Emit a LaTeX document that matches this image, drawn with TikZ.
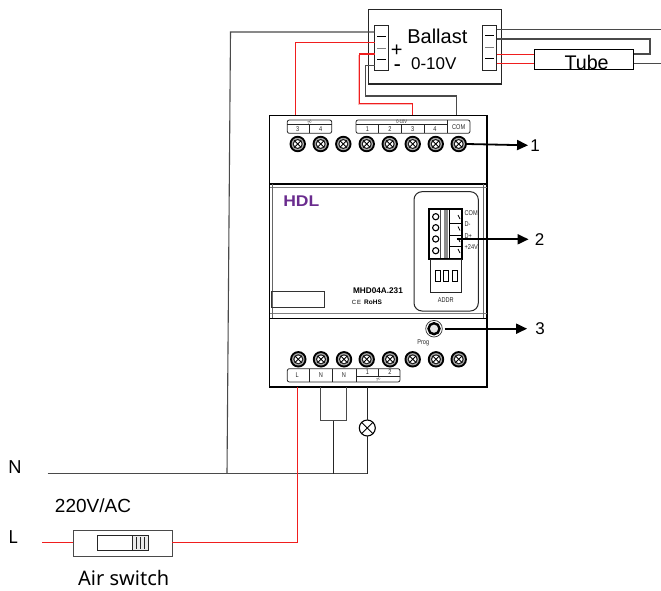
\documentclass[tikz,border=0pt]{standalone}
\usepackage{fontspec}
\setmainfont{Liberation Sans}
\newfontfamily\notofont{Noto Sans}
\newfontfamily\condfont[FakeStretch=0.8]{Liberation Sans}
\usetikzlibrary{arrows.meta}
\definecolor{wireGray}{HTML}{4A4A4A}
\definecolor{wireRed}{HTML}{F01E1E}
\definecolor{hdlPurple}{HTML}{6A2C8E}
\newcommand{\fsize}[1]{\fontsize{#1}{#1}\selectfont}
\tikzset{
	graywire/.style={wireGray, line width=1.1pt},
	redwire/.style={wireRed, line width=1.3pt},
	blackwire/.style={black!85, line width=1pt},
	pointer/.style={black, line width=1.8pt, -{Triangle[length=11pt,width=10pt]}},
	strip/.style={draw=black!85, fill=white, line width=1pt, minimum width=14pt, minimum height=45pt, inner sep=0pt, outer sep=0pt},
	bigtext/.style={inner sep=0pt, font=\fsize{19}},
	calllabel/.style={inner sep=2pt, font=\fsize{17}},
	tinytext/.style={inner sep=0pt, font=\condfont\fsize{7}, black!85},
	frameline/.style={black!85, line width=0.8pt},
	screw/.style={circle, fill=black, minimum size=16.4pt, inner sep=0pt, outer sep=0pt, path picture={
		\fill [black!35] (path picture bounding box.center) circle (6.2pt);
		\fill [black!90] (path picture bounding box.center) circle (5pt);
		\fill [white] (path picture bounding box.center) circle (3.8pt);
		\draw [black, line width=0.9pt] ([shift={(-3.4pt,-3.4pt)}]path picture bounding box.center) -- ([shift={(3.4pt,3.4pt)}]path picture bounding box.center);
		\draw [black, line width=0.9pt] ([shift={(-3.4pt,3.4pt)}]path picture bounding box.center) -- ([shift={(3.4pt,-3.4pt)}]path picture bounding box.center);
	}}
}
\begin{document}
\begin{tikzpicture}[x=1pt,y=-1pt]
	\useasboundingbox (0,0) rectangle (661,591);

	% ballast
	\node [draw=black!85, line width=1.1pt, minimum width=133.4pt, minimum height=74.5pt, inner sep=0pt, outer sep=0pt] (ballast) at (435,46.75) {};
	\node [strip] (ballastin) at (381.5,48.5) {};
	\node [strip] (ballastout) at (489.7,47.8) {};
	\foreach \y/\c in {36/black,48.7/gray,59.3/black}
		\draw [\c, line width=0.8pt] (377,\y) -- (386,\y);
	\foreach \y/\c in {35/black,47.7/gray,58.3/black}
		\draw [\c, line width=0.8pt] (485.2,\y) -- (494.2,\y);
	\node [bigtext, font=\fsize{20}] (ballasttext) at (437.3,36) {Ballast};
	\node [bigtext, font=\fsize{17}] (voltagetext) at (433.8,63.3) {0-10V};
	\node [inner sep=0pt, text height=11pt, text depth=0pt, font=\fsize{20}] (plussign) at (396.7,51.5) {+};
	\node [inner sep=0pt, text height=6pt, text depth=0pt, xscale=1.4, font=\bfseries\fsize{15}] (minussign) at (397.3,67) {-};

	% tube
	\node [draw=black, line width=1.1pt, minimum width=99.4pt, minimum height=20pt, inner sep=0pt, outer sep=0pt] (tube) at (584,59.3) {};
	\node [inner sep=0pt, font=\fsize{19.7}] (tubetext) at (586.6,62.5) {Tube};

	% pins
	\coordinate (inone) at (ballastin.west |- 0,32);
	\coordinate (intwo) at (ballastin.west |- 0,42.7);
	\coordinate (inthree) at (ballastin.west |- 0,54);
	\coordinate (infour) at (ballastin.west |- 0,65.3);
	\coordinate (outone) at (ballastout.east |- 0,29.3);
	\coordinate (outtwo) at (ballastout.east |- 0,39);
	\coordinate (outthree) at (ballastout.east |- 0,54.3);
	\coordinate (outfour) at (ballastout.east |- 0,63.7);
	\coordinate (tubeleftone) at (tube.west |- 0,54.3);
	\coordinate (tubelefttwo) at (tube.west |- 0,63.7);
	\coordinate (tuberightone) at (tube.east |- 0,54);
	\coordinate (tuberighttwo) at (tube.east |- 0,63.7);
	\coordinate (rightone) at (661,29.3);
	\coordinate (righttwo) at (661,63.7);

	% device
	\node [draw=black, line width=1.6pt, minimum width=217.7pt, minimum height=271pt, inner sep=0pt, outer sep=0pt] (device) at (378.2,251.2) {};
	\draw [black, line width=1.4pt] (270,184) -- (487,184);
	\draw [black!50, line width=0.6pt] (270,187.5) -- (487,187.5);
	\draw [black!50, line width=0.6pt] (270,313) -- (487,313);
	\draw [black, line width=1.4pt] (270,318.3) -- (487,318.3);
	\draw [black!60, line width=0.8pt] (272.5,184) -- (272.5,318);
	\draw [black!60, line width=0.8pt] (483.5,184) -- (483.5,318);

	% top terminals
	\draw [frameline, rounded corners=2pt] (287.3,120) rectangle (331.7,133.3);
	\draw [frameline] (287.3,124.3) -- (331.7,124.3);
	\draw [frameline] (309.7,124.3) -- (309.7,133.3);
	\draw [frameline, rounded corners=2pt] (356,120) rectangle (470,133.3);
	\draw [frameline] (356,124.3) -- (447.3,124.3);
	\draw [frameline] (447.3,120) -- (447.3,133.3);
	\foreach \x in {378.7,401.3,424}
		\draw [frameline] (\x,124.3) -- (\x,133.3);
	\node [tinytext, font=\fsize{4.5}] (topac) at (309.5,122.2) {$\not\sim$};
	\node [tinytext, font=\condfont\fsize{5}] (topvolt) at (401.7,122.2) {0-10V};
	\node [tinytext] (topcom) at (458.7,127) {COM};
	\foreach \x/\t in {297.7/3,320.7/4,367.5/1,390/2,412.7/3,435/4}
		\node [tinytext] (top\x) at (\x,129.5) {\t};
	\foreach \x [count=\i] in {297.7,320.7,343.3,366.7,389.7,412.7,435.7,458.7}
		\node [screw] (topscrew\i) at (\x,144) {};

	% wires at the ballast
	\coordinate (devredone) at (295.5,115);
	\coordinate (devredtwo) at (412.7,115);
	\coordinate (devcom) at (456.3,115);
	\coordinate (nwire) at (227,473.7);
	\draw [graywire] (inone) -- (230.5,32) -- (nwire);
	\draw [redwire] (intwo) -| (devredone);
	\draw [wireRed!30, line width=0.6pt] (359.3,55.4) -- (358,55.4) -- (358,104.7) -- (412,104.7);
	\draw [redwire] (inthree) -- (359.3,54) -- (359.3,103.3) -| (devredtwo);
	\draw [graywire] (infour) -- (365.7,65.3) -- (365.7,96) -| (devcom);
	\draw [graywire] (outone) -- (rightone);
	\draw [graywire] (outtwo) -- (650,39) -- (650,54) -- (tuberightone);
	\draw [graywire] (tuberighttwo) -- (righttwo);
	\draw [redwire] (outthree) -- (tubeleftone);
	\draw [redwire] (outfour) -- (tubelefttwo);

	% logo and type
	\node [inner sep=0pt, xscale=1.13, font=\bfseries\fsize{15.5}, text=hdlPurple] (logo) at (301.3,201.6) {HDL};
	\node [draw=black!80, line width=0.8pt, minimum width=52.6pt, minimum height=16.7pt, inner sep=0pt] (blanklabel) at (298,299.3) {};
	\node [inner sep=0pt, font=\bfseries\fsize{8.2}] (typetext) at (378,291) {MHD04A.231};
	\node [inner sep=0pt, font=\fsize{6}] (cemark) at (356.5,302.7) {C\,E};
	\node [inner sep=0pt, font=\rmfamily\bfseries\fsize{6.5}] (rohs) at (373,302.7) {RoHS};

	% bus terminal
	\draw [black!85, line width=1pt, rounded corners=8pt] (414,191.7) rectangle (478.3,311);
	\draw [black, line width=1.7pt] (429.3,209.3) rectangle (462,258.7);
	\draw [black!70, line width=0.8pt] (440,210) -- (440,258);
	\fill [black!45] (443.5,210) rectangle (448.3,258);
	\draw [black, line width=0.9pt] (449.5,210) -- (449.5,258);
	\foreach \y in {216.7,227.7,239,250.7}
		\draw [black, line width=1.1pt] (435.7,\y) circle (3.1pt);
	\foreach \y in {223.3,235,246}
		\draw [black, line width=0.9pt] (450,\y) -- (462,\y);
	\foreach \y in {217,228.5,240,251}
		\draw [black, line width=0.8pt] (458,\y-2) -- (460,\y+2);
	\coordinate (busport) at (456.7,239.3);
	\foreach \y/\t [count=\i] in {213.3/COM,224.3/D-,236/D+,247.3/+24V}
		\node [tinytext, anchor=west] (buslabel\i) at (464.5,\y) {\t};

	% address switch
	\draw [black!85, line width=1pt] (430.7,259.5) rectangle (461.5,292);
	\foreach \x in {435,443.5,452}
		\draw [black, line width=1pt] (\x,270) rectangle ++(5.3,11.7);
	\node [tinytext] (addrtext) at (445.7,300) {ADDR};

	% prog button
	\draw [black!80, line width=0.7pt] (434,328.7) circle (8.3pt);
	\node [circle, draw=black, line width=2.4pt, minimum size=11pt, inner sep=0pt, fill=black!10, outer sep=5pt] (progbutton) at (434,328.7) {};
	\node [tinytext] (progtext) at (423.3,343.3) {Prog};

	% bottom terminals
	\foreach \x [count=\i] in {298.3,321,344,366.7,390,412.7,436,458.7}
		\node [screw] (lowscrew\i) at (\x,359.3) {};
	\draw [frameline, rounded corners=2pt] (287.3,368.7) rectangle (400,382);
	\foreach \x in {309.3,332.3,356}
		\draw [frameline] (\x,368.7) -- (\x,382);
	\draw [frameline] (378.3,368.7) -- (378.3,376);
	\draw [frameline] (356,376.5) -- (400,376.5);
	\foreach \x/\t in {297.3/L,321/N,344/N}
		\node [tinytext] (low\x) at (\x,375.5) {\t};
	\foreach \x/\t in {367.5/1,390/2}
		\node [tinytext] (low\x) at (\x,372.5) {\t};
	\node [tinytext, font=\fsize{4.5}] (lowac) at (378.3,379.3) {$\not\sim$};

	% call-outs
	\node [calllabel] (labelone) at (535,145.3) {1};
	\node [calllabel, inner sep=6pt] (labeltwo) at (539.5,240) {2};
	\node [calllabel, inner sep=8pt] (labelthree) at (540,329) {3};
	\draw [pointer] (topscrew8.east) -- (labelone.west);
	\draw [pointer] (busport) -- (labeltwo.west |- busport);
	\draw [pointer] (progbutton.east) -- (labelthree.west |- progbutton);

	% mains lines
	\coordinate (ntail) at (47.7,473.7);
	\coordinate (ltail) at (42.3,542.5);
	\coordinate (lowl) at (297.5,387);
	\coordinate (lown) at (320.7,387);
	\coordinate (lownn) at (346.7,387);
	\coordinate (lowlamp) at (367.3,387);
	\coordinate (njoint) at (333.3,420.7);
	\coordinate (nend) at (367.3,473.7);
	\node [circle, draw=black, line width=1.1pt, minimum size=16pt, inner sep=0pt, outer sep=0pt, path picture={
		\draw [black, line width=0.9pt] (path picture bounding box.south west) -- (path picture bounding box.north east);
		\draw [black, line width=0.9pt] (path picture bounding box.north west) -- (path picture bounding box.south east);
	}] (lamp) at (367.3,428) {};
	\draw [graywire] (ntail) -- (nend);
	\draw [graywire] (lown) -- (320.7,420.7) -- (346.7,420.7) -- (lownn);
	\draw [blackwire] (njoint) -- (njoint |- nend);
	\draw [blackwire] (lowlamp) -- (lamp.north);
	\draw [blackwire] (lamp.south) -- (nend);

	% air switch
	\node [draw=wireGray, fill=white, line width=1.1pt, minimum width=99pt, minimum height=26pt, inner sep=0pt, outer sep=0pt] (airswitch) at (122.8,543.3) {};
	\fill [black!8] (132.7,535.3) rectangle (148,550.3);
	\draw [black!85, line width=0.8pt] (97.3,535.3) rectangle (148,550.3);
	\draw [black!85, line width=1pt] (132.7,535.3) -- (132.7,550.3);
	\foreach \x in {136.7,140.7,144.7}
		\draw [black!85, line width=0.5pt] (\x,537) -- (\x,549);
	\draw [redwire] (ltail) -- (airswitch.west |- ltail);
	\draw [redwire] (lowl) |- (airswitch.east |- 0,542.3);

	% texts
	\node [inner sep=0pt, font=\notofont\fsize{18}] (ntext) at (15,467) {N};
	\node [inner sep=0pt, font=\notofont\fsize{18}] (ltext) at (13,537) {L};
	\node [bigtext] (mainstext) at (93,505.7) {220V/AC};
	\node [inner sep=0pt, font=\notofont\fsize{20}] (switchtext) at (123.7,578) {Air switch};
\end{tikzpicture}
\end{document}
